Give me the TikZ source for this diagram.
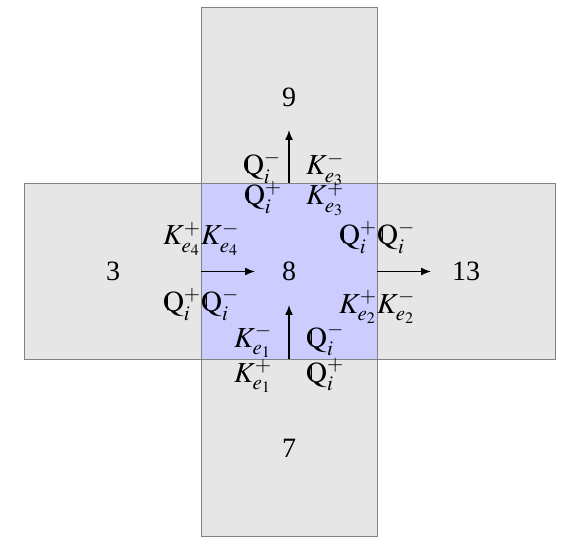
\documentclass[tikz,border=0pt]{standalone}
\usepackage{mathptmx}
\usepackage[no-math]{fontspec}
\setmainfont{Liberation Serif}
\DeclareMathSizes{29}{29}{21}{16}
\newcommand\qbb{\mathrm{\rlap{\kern0.15em\vrule height0.62em depth-0.06em width0.025em}Q}}
\definecolor{cellgray}{RGB}{230,230,230}
\definecolor{cellblue}{RGB}{204,204,255}
\definecolor{edgegray}{RGB}{130,130,130}
\usetikzlibrary{arrows.meta}
\tikzset{
  cell/.style={draw=edgegray, line width=0.8pt},
  lab/.style={inner sep=0pt, font=\fontsize{29}{33}\selectfont},
  num/.style={inner sep=0pt, font=\fontsize{28}{32}\selectfont},
  arr/.style={-{Latex[length=10pt,width=8pt]}, line width=1.4pt, black}
}
\begin{document}
\begin{tikzpicture}[x=1pt,y=-1pt]
\useasboundingbox (0,0) rectangle (576,548);
% cells
\fill[cellgray] (201,7) rectangle (377,536);
\fill[cellgray] (24,183) rectangle (555,359);
\draw[cell] (201,7) rectangle (377,536);
\draw[cell] (24,183) rectangle (555,359);
\filldraw[cell, fill=cellblue] (201,183) rectangle (377,359);
% numbers
\node[num] (n9) at (289,97) {9};
\node[num] (n3) at (113,271) {3};
\node[num] (n8) at (289,271) {8};
\node[num] (n13) at (466,271) {13};
\node[num] (n7) at (289,448) {7};
% arrows
\coordinate (eT) at (289,183); \coordinate (tT) at (289,130);
\coordinate (eB) at (289,359); \coordinate (tB) at (289,305);
\coordinate (eL) at (201,271.5); \coordinate (tL) at (255,271.5);
\coordinate (eR) at (377,271.5); \coordinate (tR) at (431,271.5);
\draw[arr] (eT) -- (tT);
\draw[arr] (eB) -- (tB);
\draw[arr] (eL) -- (tL);
\draw[arr] (eR) -- (tR);
% top labels
\node[lab, anchor=base east] (qt1) at (281,175) {$\qbb_i^-$};
\node[lab, anchor=base west] (kt1) at (306,175) {$K_{e_3}^-$};
\node[lab, anchor=base east] (qt2) at (282,205) {$\qbb_i^+$};
\node[lab, anchor=base west] (kt2) at (306,205) {$K_{e_3}^+$};
% left labels
\node[lab, anchor=base east] (kl1) at (201,245) {$K_{e_4}^+$};
\node[lab, anchor=base west] (kl2) at (201,245) {$K_{e_4}^-$};
\node[lab, anchor=base east] (ql1) at (201,312) {$\qbb_i^+$};
\node[lab, anchor=base west] (ql2) at (201,312) {$\qbb_i^-$};
% right labels
\node[lab, anchor=base east] (qr1) at (377,245) {$\qbb_i^+$};
\node[lab, anchor=base west] (qr2) at (377,245) {$\qbb_i^-$};
\node[lab, anchor=base east] (kr1) at (377,313) {$K_{e_2}^+$};
\node[lab, anchor=base west] (kr2) at (377,313) {$K_{e_2}^-$};
% bottom labels
\node[lab, anchor=base east] (kb1) at (272,347) {$K_{e_1}^-$};
\node[lab, anchor=base west] (qb1) at (306,347) {$\qbb_i^-$};
\node[lab, anchor=base east] (kb2) at (272,382) {$K_{e_1}^+$};
\node[lab, anchor=base west] (qb2) at (306,382) {$\qbb_i^+$};
\end{tikzpicture}
\end{document}
